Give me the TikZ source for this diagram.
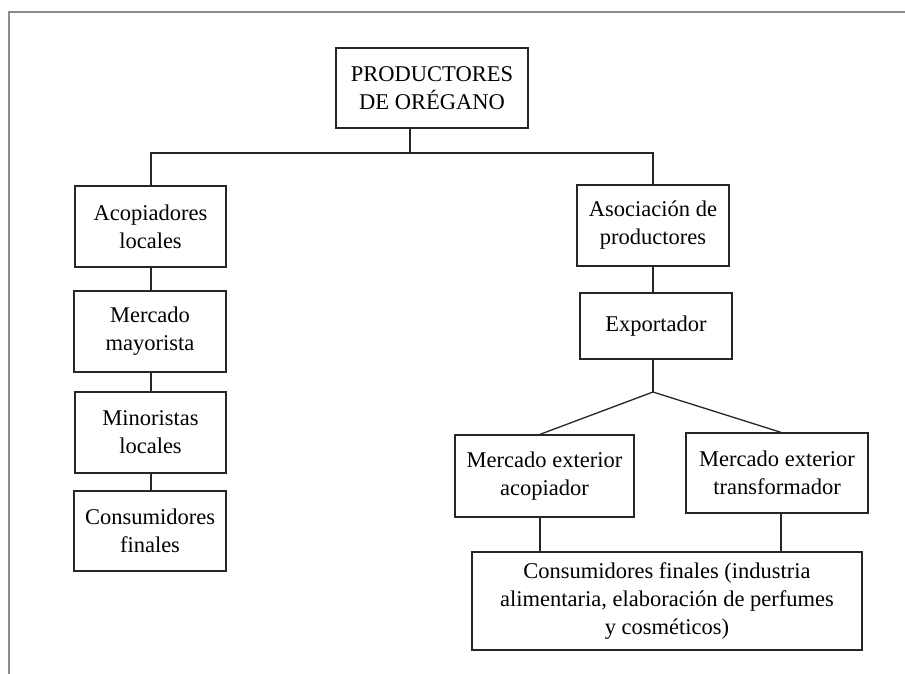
\documentclass[tikz,border=0pt]{standalone}
\usepackage{fontspec}
\setmainfont{Liberation Serif}
\begin{document}
\begin{tikzpicture}[x=1pt,y=-1pt,
    caja/.style={draw=black!85, line width=1.3pt, align=center, inner sep=0pt,
      font=\fontsize{22.5}{28}\selectfont},
    linea/.style={draw=black!85, line width=1.3pt}]
  \useasboundingbox (0,0) rectangle (905,674);
  \draw [black!45, line width=2pt] (9,674) -- (9,12) -- (905,12);

  % productores
  \node [caja, minimum width=192pt, minimum height=80pt] (prod) at (432,88) {PRODUCTORES\\DE ORÉGANO};

  % mercado interno
  \node [caja, minimum width=151pt, minimum height=81pt] (acop) at (150.5,226.5) {Acopiadores\\locales};
  \node [caja, minimum width=152pt, minimum height=81pt] (mayor) at (150,331.5) {Mercado\\mayorista};
  \node [caja, minimum width=151pt, minimum height=81pt] (minor) at (150.5,432.5) {Minoristas\\locales};
  \node [caja, minimum width=152pt, minimum height=80pt] (consL) at (150,531) {Consumidores\\finales};

  % mercado externo
  \node [caja, minimum width=152pt, minimum height=81pt] (asoc) at (653,225.5) {Asociación de\\productores};
  \node [caja, minimum width=152pt, minimum height=66pt] (expo) at (656,326) {Exportador};
  \node [caja, minimum width=179pt, minimum height=82pt] (extA) at (544.5,476) {Mercado exterior\\acopiador};
  \node [caja, minimum width=182pt, minimum height=80pt] (extT) at (777,473) {Mercado exterior\\transformador};
  \node [caja, minimum width=390pt, minimum height=98pt] (consR) at (667,601) {Consumidores finales (industria\\alimentaria, elaboración de perfumes\\y cosméticos)};

  \coordinate (jTop) at (410,153);
  \coordinate (jL) at (151,153);
  \coordinate (jR) at (653,153);
  \coordinate (apex) at (653,392);
  \coordinate (bA) at (540,0);
  \coordinate (bT) at (781,0);

  \draw [linea] (prod.south -| jTop) -- (jTop);
  \draw [linea] (acop.north -| jL) -- (jL) -- (jR) -- (asoc.north -| jR);
  \draw [linea] (acop.south -| jL) -- (mayor.north -| jL);
  \draw [linea] (mayor.south -| jL) -- (minor.north -| jL);
  \draw [linea] (minor.south -| jL) -- (consL.north -| jL);
  \draw [linea] (asoc.south -| jR) -- (expo.north -| jR);
  \draw [linea] (expo.south -| apex) -- (apex);
  \draw [linea] (extA.north -| bA) -- (apex) -- (extT.north -| bT);
  \draw [linea] (extA.south -| bA) -- (consR.north -| bA);
  \draw [linea] (extT.south -| bT) -- (consR.north -| bT);
\end{tikzpicture}
\end{document}
